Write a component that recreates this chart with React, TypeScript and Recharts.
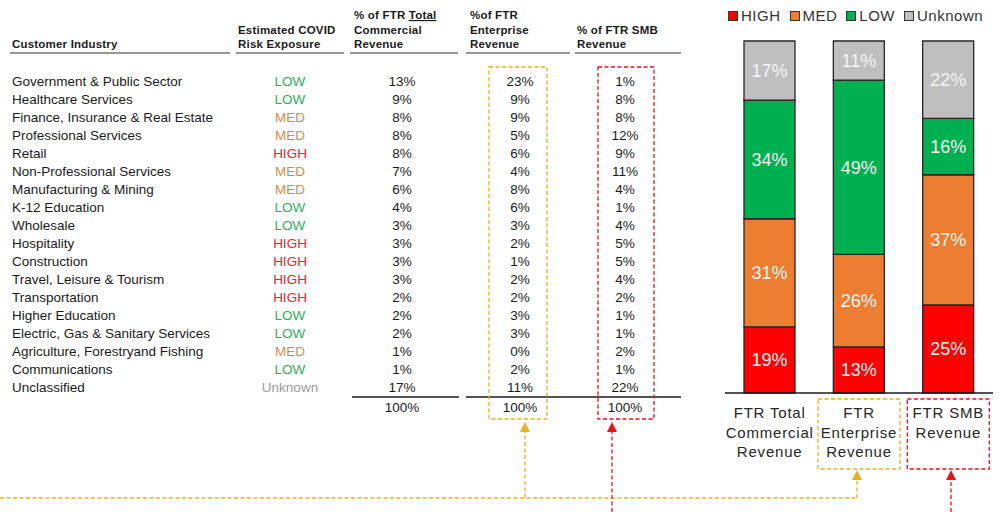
import { type JSX } from 'react';
import { BarChart, Bar, XAxis, YAxis, LabelList } from 'recharts';

// table data
const industries = [
  'Government & Public Sector',
  'Healthcare Services',
  'Finance, Insurance & Real Estate',
  'Professional Services',
  'Retail',
  'Non-Professional Services',
  'Manufacturing & Mining',
  'K-12 Education',
  'Wholesale',
  'Hospitality',
  'Construction',
  'Travel, Leisure & Tourism',
  'Transportation',
  'Higher Education',
  'Electric, Gas & Sanitary Services',
  'Agriculture, Forestryand Fishing',
  'Communications',
  'Unclassified',
];
const riskLevels = ['LOW', 'LOW', 'MED', 'MED', 'HIGH', 'MED', 'MED', 'LOW', 'LOW', 'HIGH', 'HIGH', 'HIGH', 'HIGH', 'LOW', 'LOW', 'MED', 'LOW', 'Unknown'];
const totalShare = [13, 9, 8, 8, 8, 7, 6, 4, 3, 3, 3, 3, 2, 2, 2, 1, 1, 17];
const enterpriseShare = [23, 9, 9, 5, 6, 4, 8, 6, 3, 2, 1, 2, 2, 3, 3, 0, 2, 11];
const smbShare = [1, 8, 8, 12, 9, 11, 4, 1, 4, 5, 5, 4, 2, 1, 1, 2, 1, 22];
const columnTotals = [100, 100, 100];

// chart data
const revenueCategories = ['FTR Total Commercial Revenue', 'FTR Enterprise Revenue', 'FTR SMB Revenue'];
const tickLines = [
  ['FTR Total', 'Commercial', 'Revenue'],
  ['FTR', 'Enterprise', 'Revenue'],
  ['FTR SMB', 'Revenue'],
];
const highShare = [19, 13, 25];
const medShare = [31, 26, 37];
const lowShare = [34, 49, 16];
const unknownShare = [17, 11, 22];
const riskKeys = ['HIGH', 'MED', 'LOW', 'Unknown'];

const FONT = '"Liberation Sans", Arial, sans-serif';
const YELLOW = '#E9B020';
const RED = '#E8141C';

const barColors: Record<string, string> = {
  HIGH: '#FF0000',
  MED: '#ED7D31',
  LOW: '#00B050',
  Unknown: '#BFBFBF',
};
const riskTextColors: Record<string, string> = {
  HIGH: '#E3262D',
  MED: '#D98A4A',
  LOW: '#2FAE5E',
  Unknown: '#9A9A9A',
};

const chartData = revenueCategories.map((name, i) => ({
  name,
  HIGH: highShare[i],
  MED: medShare[i],
  LOW: lowShare[i],
  Unknown: unknownShare[i],
}));

function RevenueTick(props: any): JSX.Element {
  const { x, y, payload } = props;
  const idx = payload.index as number;
  const lines = tickLines[idx] ?? [];
  const boxColor = idx === 1 ? YELLOW : idx === 2 ? RED : null;
  return (
    <g>
      {boxColor && (
        <rect
          x={x - 41}
          y={y + 6}
          width={82}
          height={70}
          fill="none"
          stroke={boxColor}
          strokeWidth={1.3}
          strokeDasharray="4 2.5"
        />
      )}
      <text
        x={x}
        y={y + 25}
        textAnchor="middle"
        fill="#262626"
        style={{ fontFamily: FONT, fontSize: 15, letterSpacing: 0.8 }}
      >
        {lines.map((line, i) => (
          <tspan key={line} x={x} dy={i === 0 ? 0 : 19.5}>
            {line}
          </tspan>
        ))}
      </text>
    </g>
  );
}

function RiskTable(): JSX.Element {
  const rowY = (i: number) => 85.5 + i * 18.05;
  const headStyle = { fontFamily: FONT, fontSize: 11.5, fontWeight: 700, letterSpacing: 0.2 };
  const cellStyle = { fontFamily: FONT, fontSize: 13.5 };
  const underlines = [
    [10, 230],
    [236, 344],
    [350, 458],
    [466, 570],
    [575, 681],
  ];
  return (
    <svg width={1003} height={512} style={{ position: 'absolute', left: 0, top: 0 }}>
      <g fill="#1a1a1a" style={headStyle}>
        <text x={12} y={48}>Customer Industry</text>
        <text x={238} y={34}>Estimated COVID</text>
        <text x={238} y={48}>Risk Exposure</text>
        <text x={354} y={19}>
          % of FTR <tspan style={{ textDecoration: 'underline' }}>Total</tspan>
        </text>
        <text x={354} y={34}>Commercial</text>
        <text x={354} y={48}>Revenue</text>
        <text x={470} y={19}>%of FTR</text>
        <text x={470} y={34}>Enterprise</text>
        <text x={470} y={48}>Revenue</text>
        <text x={577} y={34}>% of FTR SMB</text>
        <text x={577} y={48}>Revenue</text>
      </g>
      {underlines.map(([a, b]) => (
        <line key={a} x1={a} x2={b} y1={53} y2={53} stroke="#333" strokeWidth={1.2} />
      ))}

      {industries.map((name, i) => (
        <g key={name} style={cellStyle}>
          <text x={12} y={rowY(i)} fill="#1a1a1a">{name}</text>
          <text x={290} y={rowY(i)} textAnchor="middle" fill={riskTextColors[riskLevels[i]]}>
            {riskLevels[i]}
          </text>
          <text x={402} y={rowY(i)} textAnchor="middle" fill="#1a1a1a">{totalShare[i]}%</text>
          <text x={520} y={rowY(i)} textAnchor="middle" fill="#1a1a1a">{enterpriseShare[i]}%</text>
          <text x={625} y={rowY(i)} textAnchor="middle" fill="#1a1a1a">{smbShare[i]}%</text>
        </g>
      ))}

      <line x1={352} x2={459} y1={397} y2={397} stroke="#1a1a1a" strokeWidth={1.3} />
      <line x1={466} x2={681} y1={397} y2={397} stroke="#1a1a1a" strokeWidth={1.3} />
      <g style={cellStyle} fill="#1a1a1a" textAnchor="middle">
        <text x={402} y={411.5}>{columnTotals[0]}%</text>
        <text x={520} y={411.5}>{columnTotals[1]}%</text>
        <text x={625} y={411.5}>{columnTotals[2]}%</text>
      </g>

      {/* highlight boxes */}
      <rect x={489} y={67} width={58} height={352} fill="none" stroke={YELLOW} strokeWidth={1.3} strokeDasharray="4 2.5" />
      <rect x={598} y={67} width={56} height={352} fill="none" stroke={RED} strokeWidth={1.3} strokeDasharray="4 2.5" />

      {/* connectors */}
      <g fill="none" strokeWidth={1.3} strokeDasharray="4 2.5">
        <polyline points="0,498 857,498" stroke={YELLOW} />
        <line x1={525} x2={525} y1={498} y2={432} stroke={YELLOW} />
        <line x1={857} x2={857} y1={498} y2={478} stroke={YELLOW} />
        <line x1={612} x2={612} y1={512} y2={432} stroke={RED} />
        <line x1={951} x2={951} y1={512} y2={478} stroke={RED} />
      </g>
      <path d="M525,422 L530,432 L520,432 Z" fill={YELLOW} />
      <path d="M857,470 L862,480 L852,480 Z" fill={YELLOW} />
      <path d="M612,422 L617,432 L607,432 Z" fill={RED} />
      <path d="M951,470 L956,480 L946,480 Z" fill={RED} />
    </svg>
  );
}

function RiskLegend(): JSX.Element {
  return (
    <div
      style={{
        position: 'absolute',
        left: 728,
        top: 7,
        display: 'flex',
        gap: 9,
        fontFamily: FONT,
        fontSize: 15,
        letterSpacing: 0.5,
        color: '#333',
        lineHeight: '18px',
      }}
    >
      {riskKeys.map((k) => (
        <div key={k} style={{ display: 'flex', alignItems: 'center' }}>
          <span
            style={{
              width: 8,
              height: 8,
              background: barColors[k],
              border: '1px solid #333',
              marginRight: 3,
            }}
          />
          {k}
        </div>
      ))}
    </div>
  );
}

export default function App(): JSX.Element {
  return (
    <div style={{ position: 'absolute', left: 0, top: 0, width: 1003, height: 512, background: '#fff', overflow: 'hidden' }}>
      <RiskTable />
      <RiskLegend />
      <div style={{ position: 'absolute', left: 720, top: 0 }}>
        <BarChart
          width={283}
          height={512}
          data={chartData}
          stackOffset="expand"
          margin={{ top: 41, right: 10, left: 5, bottom: 39 }}
        >
          <XAxis
            dataKey="name"
            height={80}
            interval={0}
            tickLine={false}
            tickSize={0}
            tickMargin={0}
            axisLine={{ stroke: '#1a1a1a', strokeWidth: 1.5 }}
            tick={<RevenueTick />}
          />
          <YAxis hide domain={[0, 1]} />
          {riskKeys.map((k) => (
            <Bar
              key={k}
              dataKey={k}
              stackId="risk"
              barSize={51}
              fill={barColors[k]}
              stroke="#262626"
              strokeWidth={1.3}
              isAnimationActive={false}
            >
              <LabelList
                dataKey={k}
                position="center"
                formatter={(v: any) => `${v}%`}
                style={{ fill: '#F4F4F4', fontFamily: FONT, fontSize: 18 }}
              />
            </Bar>
          ))}
        </BarChart>
      </div>
    </div>
  );
}
